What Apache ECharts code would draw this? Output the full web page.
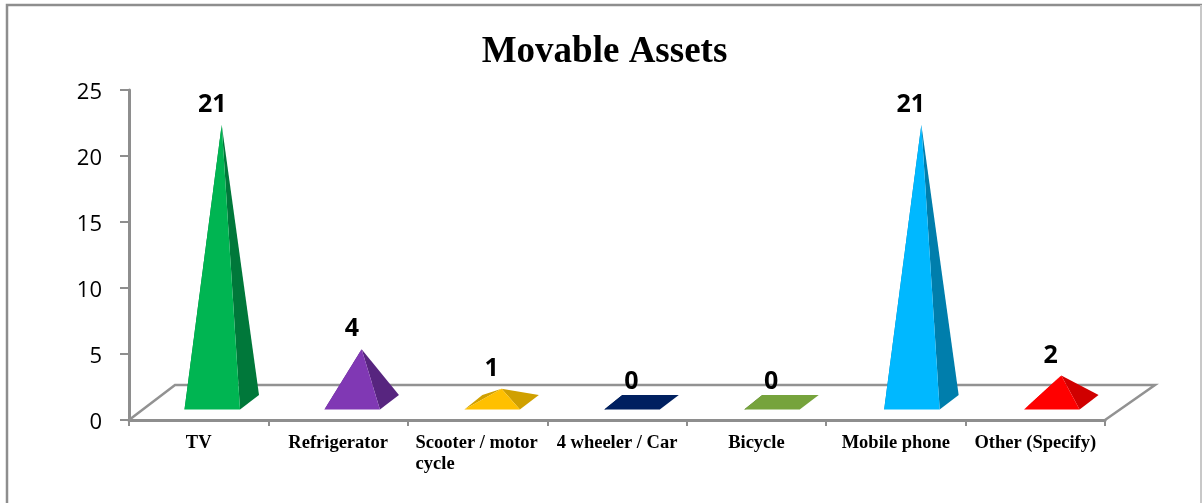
<!DOCTYPE html>
<html><head><meta charset="utf-8">
<style>html,body{margin:0;padding:0;background:#fff}#c{width:1202px;height:503px}</style>
<script src="https://cdn.jsdelivr.net/npm/echarts@6/dist/echarts.min.js"></script>
</head><body><div id="c"></div>
<script>
const categories = ['TV','Refrigerator','Scooter / motor cycle','4 wheeler / Car','Bicycle','Mobile phone','Other (Specify)'];
const values = [21,4,1,0,0,21,2];
const yTicks = [0,5,10,15,20,25];
const frontColors = ['#00b552','#8038b4','#ffc000','#002060','#76a33c','#00b8ff','#ff0000'];
const sideColors  = ['#00783a','#57257f','#d0a000','#001540','#50702a','#007eac','#d00000'];

const chart = echarts.init(document.getElementById('c'), null, {renderer:'canvas'});
const GRAY = '#8e8e8e';
const floorDx = 48, floorDy = -35;
function pyramid(params, api){
  const i = api.value(0), v = api.value(1);
  const p0 = api.coord([i,0]), p = api.coord([i,v]);
  const x = p0[0]+i*0.5, y = p0[1];
  const fl=[x-14.2,y-10.5], fr=[x+41.3,y-10.5], br=[x+60.3,y-25], bl=[x+3.8,y-25];
  const apex=[x+23, p[1]-18];
  const idx = params.dataIndex;
  const poly=(pts,fill)=>({type:'polygon',shape:{points:pts},style:{fill}});
  const children=[];
  children.push(poly([fl,bl,apex],sideColors[idx]));
  if(v===0){ children.push(poly([fl,fr,br,bl],frontColors[idx])); }
  else {
    children.push(poly([fr,br,apex],sideColors[idx]));
    children.push(poly([fl,fr,apex],frontColors[idx]));
  }
  children.push({type:'text',z2:10,style:{text:String(v),x:p0[0]+13.5+i*0.3,y:p[1]-38,align:'center',verticalAlign:'middle',
    font:'bold 25px "Open Sans"',fill:'#000'}});
  return {type:'group',children};
}
function floor(params, api){
  const c = params.coordSys, x0=c.x, x1=c.x+c.width, y=c.y+c.height;
  return {type:'polyline',silent:true,shape:{points:[[x0,y],[x0+floorDx-2,y+floorDy],[x1+50,y+floorDy],[x1,y]]},
    style:{fill:null,stroke:'#929292',lineWidth:2.5}};
}
chart.setOption({
  animation:false,
  backgroundColor:'#fff',
  title:{text:'Movable Assets',left:599.5,top:47,textAlign:'center',textVerticalAlign:'middle',
    textStyle:{fontFamily:'"Liberation Serif"',fontWeight:'bold',fontSize:37,color:'#000'}},
  grid:{left:129,right:97,top:90,bottom:83},
  xAxis:{type:'category',data:categories,
    axisLine:{lineStyle:{color:GRAY,width:3}},
    axisTick:{show:true,alignWithLabel:false,length:6,lineStyle:{color:GRAY,width:2}},
    axisLabel:{interval:0,margin:13,color:'#000',
      formatter:(v)=> v==='Scooter / motor cycle' ? '{l|Scooter / motor}\n{l|cycle}' : '{c|'+v+'}',
      rich:{l:{width:124,align:'left',fontFamily:'"Liberation Serif"',fontWeight:'bold',fontSize:18.5,lineHeight:21,color:'#000'},
            c:{fontFamily:'"Liberation Serif"',fontWeight:'bold',fontSize:18.5,lineHeight:21,color:'#000'}},
      verticalAlign:'top'}},
  yAxis:{type:'value',min:yTicks[0],max:yTicks[yTicks.length-1],interval:yTicks[1]-yTicks[0],
    axisLine:{show:true,lineStyle:{color:GRAY,width:3}},
    axisTick:{show:true,length:9,lineStyle:{color:GRAY,width:2}},
    splitLine:{show:false},
    axisLabel:{margin:27,fontFamily:'"Open Sans"',fontSize:22,color:'#000',verticalAlign:'top',lineHeight:6}},
  series:[
    {type:'custom',coordinateSystem:'cartesian2d',renderItem:floor,data:[[0,0]],clip:false,z:1,silent:true},
    {type:'custom',coordinateSystem:'cartesian2d',renderItem:pyramid,clip:false,z:2,silent:true,
      encode:{x:0,y:1},data:values.map((v,i)=>[i,v])}
  ],
  graphic:[
    {type:'polyline',silent:true,z:-1,shape:{points:[[7,503],[7,5],[1202,5]]},style:{fill:'none',stroke:GRAY,lineWidth:2.5}},
    {type:'line',silent:true,z:-1,shape:{x1:1201,y1:5,x2:1201,y2:503},style:{stroke:'#c8c8c8',lineWidth:2}}
  ]
});
</script></body></html>
